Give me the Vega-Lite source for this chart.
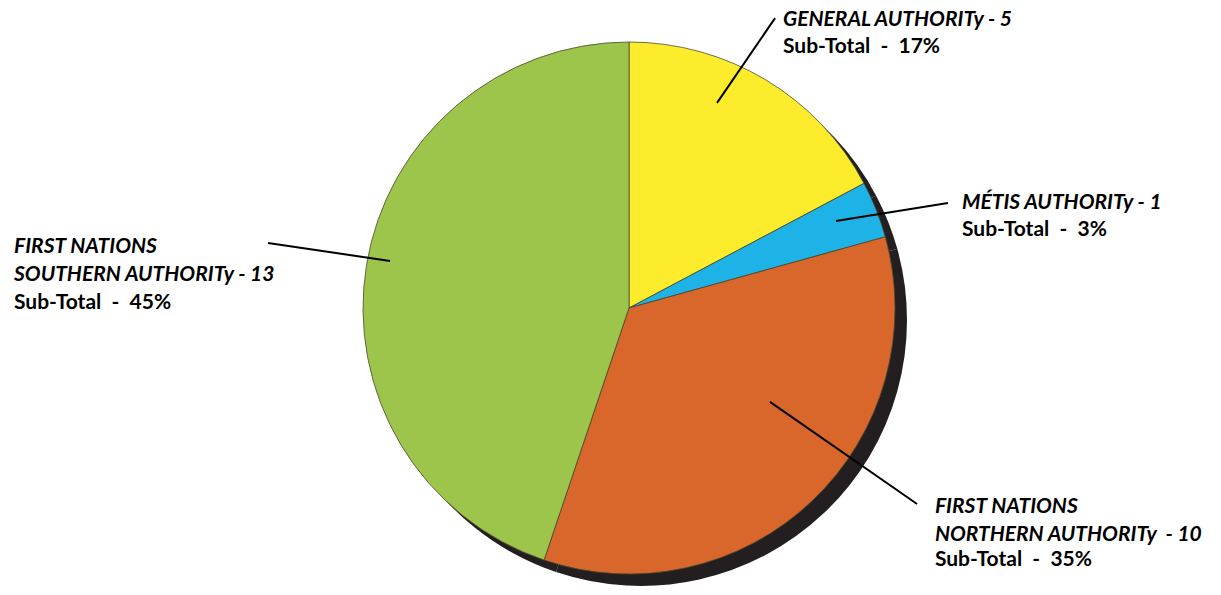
{
  "$schema": "https://vega.github.io/schema/vega-lite/v6.json",
  "autosize": {"type": "none"},
  "width": 1184,
  "height": 574,
  "padding": {"left": 37, "right": 0, "top": 21, "bottom": 0},
  "background": "white",
  "config": {"view": {"stroke": null}},
  "datasets": {
    "slices": [
      {"name": "General Authority", "n": 5, "o": 1},
      {"name": "Métis Authority", "n": 1, "o": 2},
      {"name": "First Nations Northern Authority", "n": 10, "o": 3},
      {"name": "First Nations Southern Authority", "n": 13, "o": 4}
    ],
    "leaders": [
      {"name": "General Authority", "x": 0.331, "y": 0.771, "x2": 0.549, "y2": 1.09},
      {"name": "Métis Authority", "x": 0.778, "y": 0.327, "x2": 1.199, "y2": 0.395},
      {"name": "First Nations Southern Authority", "x": -0.898, "y": 0.177, "x2": -1.357, "y2": 0.244},
      {"name": "First Nations Northern Authority", "x": 0.53, "y": -0.353, "x2": 1.083, "y2": -0.737}
    ],
    "labels": [
      {"kind": "name", "text": "GENERAL AUTHORITy - 5", "x": 0.579, "y": 1.06},
      {"kind": "sub", "text": "Sub-Total\u00a0 -\u00a0 17%", "x": 0.579, "y": 0.959},
      {"kind": "name", "text": "MÉTIS AUTHORITy - 1", "x": 1.252, "y": 0.372},
      {"kind": "sub", "text": "Sub-Total\u00a0 -\u00a0 3%", "x": 1.252, "y": 0.271},
      {"kind": "name", "text": "FIRST NATIONS", "x": -2.312, "y": 0.207},
      {"kind": "name", "text": "SOUTHERN AUTHORITy - 13", "x": -2.312, "y": 0.102},
      {"kind": "sub", "text": "Sub-Total\u00a0 -\u00a0 45%", "x": -2.312, "y": -0.004},
      {"kind": "name", "text": "FIRST NATIONS", "x": 1.15, "y": -0.771},
      {"kind": "name", "text": "NORTHERN AUTHORITy\u00a0 - 10", "x": 1.15, "y": -0.876},
      {"kind": "sub", "text": "Sub-Total\u00a0 -\u00a0 35%", "x": 1.15, "y": -0.97}
    ]
  },
  "layer": [
    {
      "data": {"name": "slices"},
      "mark": {"type": "arc", "outerRadius": 266, "xOffset": 12, "yOffset": 12, "color": "#231f20"},
      "encoding": {
        "theta": {"field": "n", "type": "quantitative", "stack": true},
        "order": {"field": "o"}
      }
    },
    {
      "data": {"name": "slices"},
      "mark": {"type": "arc", "outerRadius": 266, "stroke": "#4a4a30", "strokeWidth": 0.8},
      "encoding": {
        "theta": {"field": "n", "type": "quantitative", "stack": true},
        "order": {"field": "o"},
        "color": {
          "field": "name",
          "type": "nominal",
          "legend": null,
          "scale": {
            "domain": ["General Authority", "Métis Authority", "First Nations Northern Authority", "First Nations Southern Authority"],
            "range": ["#fdec2c", "#1eb3e6", "#d9662a", "#9dc44b"]
          }
        }
      }
    },
    {
      "data": {"name": "leaders"},
      "mark": {"type": "rule", "color": "black", "strokeWidth": 2},
      "encoding": {
        "x": {"field": "x", "type": "quantitative", "scale": {"domain": [-2.2256, 2.2256]}, "axis": null},
        "y": {"field": "y", "type": "quantitative", "scale": {"domain": [-1.079, 1.079]}, "axis": null},
        "x2": {"field": "x2"},
        "y2": {"field": "y2"}
      }
    },
    {
      "data": {"name": "labels"},
      "transform": [{"filter": "datum.kind == 'name'"}],
      "mark": {"type": "text", "align": "left", "baseline": "alphabetic", "font": "Lato", "fontSize": 21, "fontWeight": "bold", "fontStyle": "italic", "color": "black"},
      "encoding": {
        "x": {"field": "x", "type": "quantitative", "scale": {"domain": [-2.2256, 2.2256]}, "axis": null},
        "y": {"field": "y", "type": "quantitative", "scale": {"domain": [-1.079, 1.079]}, "axis": null},
        "text": {"field": "text"}
      }
    },
    {
      "data": {"name": "labels"},
      "transform": [{"filter": "datum.kind == 'sub'"}],
      "mark": {"type": "text", "align": "left", "baseline": "alphabetic", "font": "Lato", "fontSize": 21, "fontWeight": "bold", "color": "black"},
      "encoding": {
        "x": {"field": "x", "type": "quantitative", "scale": {"domain": [-2.2256, 2.2256]}, "axis": null},
        "y": {"field": "y", "type": "quantitative", "scale": {"domain": [-1.079, 1.079]}, "axis": null},
        "text": {"field": "text"}
      }
    }
  ]
}
